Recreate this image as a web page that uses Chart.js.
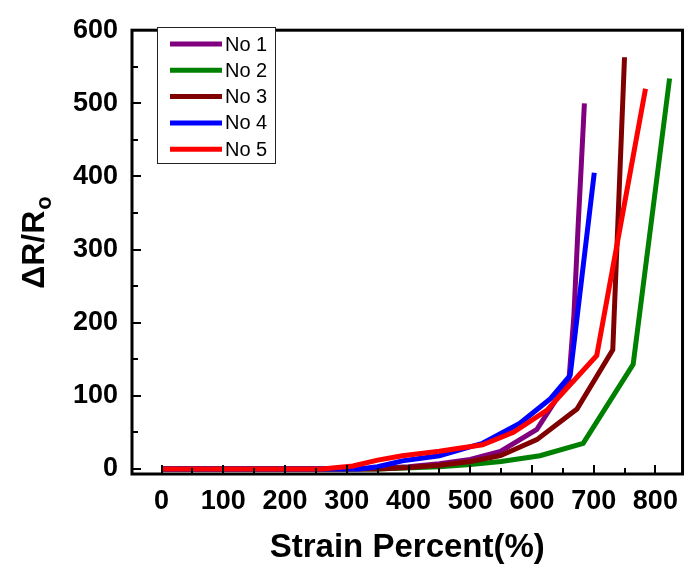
<!DOCTYPE html>
<html>
<head>
<meta charset="utf-8">
<script src="https://cdn.jsdelivr.net/npm/chart.js@4"></script>
<style>
  body { margin: 0; background: #fff; }
  canvas { display: block; }
</style>
</head>
<body>
<canvas id="chart" width="689" height="573"></canvas>
<script>
// strain (%) and resistance change for each sample
const strainNo1 = [0, 300, 350, 400, 450, 500, 549, 608, 660, 668, 675, 680, 685];
const respNo1 = [0, 0, 1, 3, 7, 13, 24, 54, 122, 210, 335, 416, 500];
const strainNo2 = [0, 350, 450, 500, 550, 613, 683, 764, 823];
const respNo2 = [0, 0, 3, 6, 10, 18, 35, 143, 534];
const strainNo3 = [0, 350, 400, 450, 500, 549, 608, 673, 731, 750];
const respNo3 = [0, 0, 2, 5, 10, 18, 40, 82, 163, 563];
const strainNo4 = [0, 320, 350, 390, 450, 520, 580, 630, 662, 701];
const respNo4 = [0, 0, 3, 11, 18, 35, 62, 96, 128, 405];
const strainNo5 = [0, 260, 310, 350, 390, 450, 520, 570, 624, 705, 784];
const respNo5 = [0, 0, 4, 12, 18, 24, 33, 50, 80, 155, 520];

const seriesNames = ['No 1', 'No 2', 'No 3', 'No 4', 'No 5'];
const seriesColors = ['#800080', '#008000', '#800000', '#0000ff', '#ff0000'];

const xTicks = [0, 100, 200, 300, 400, 500, 600, 700, 800];
const yTicks = [0, 100, 200, 300, 400, 500, 600];

const FONT = "'Liberation Sans', Arial, sans-serif";

function toPoints(xs, ys) {
    return xs.map((x, i) => ({ x: x, y: ys[i] }));
}

const allX = [strainNo1, strainNo2, strainNo3, strainNo4, strainNo5];
const allY = [respNo1, respNo2, respNo3, respNo4, respNo5];

const datasets = seriesNames.map((name, i) => ({
    label: name,
    data: toPoints(allX[i], allY[i]),
    borderColor: seriesColors[i],
    backgroundColor: seriesColors[i],
    borderWidth: 5,
    pointRadius: 0,
    tension: 0,
    fill: false,
    order: seriesNames.length - i
}));

function midpoints(arr) {
    const out = [];
    for (let i = 0; i < arr.length - 1; i++) out.push((arr[i] + arr[i + 1]) / 2);
    return out;
}

// box frame, inward ticks, legend and y title with subscript
const decorations = {
    id: 'decorations',
    afterDatasetsDraw(chart) {
        const ctx = chart.ctx;
        const a = chart.chartArea;
        const xs = chart.scales.x;
        const ys = chart.scales.y;
        ctx.save();
        ctx.strokeStyle = '#000';
        ctx.lineWidth = 2;
        ctx.beginPath();
        xTicks.forEach(v => {
            const px = Math.round(xs.getPixelForValue(v));
            ctx.moveTo(px, a.bottom); ctx.lineTo(px, a.bottom - 9);
        });
        midpoints(xTicks).forEach(v => {
            const px = Math.round(xs.getPixelForValue(v));
            ctx.moveTo(px, a.bottom); ctx.lineTo(px, a.bottom - 6);
        });
        yTicks.forEach(v => {
            const py = Math.round(ys.getPixelForValue(v));
            ctx.moveTo(a.left, py); ctx.lineTo(a.left + 9, py);
        });
        midpoints(yTicks).forEach(v => {
            const py = Math.round(ys.getPixelForValue(v));
            ctx.moveTo(a.left, py); ctx.lineTo(a.left + 6, py);
        });
        ctx.stroke();

        ctx.lineWidth = 3;
        ctx.strokeRect(a.left, a.top, a.right - a.left, a.bottom - a.top);
        ctx.restore();
    },
    afterDraw(chart) {
        const ctx = chart.ctx;
        ctx.save();

        // legend box
        const boxL = 157, boxT = 27, boxW = 118, boxH = 136;
        ctx.fillStyle = '#fff';
        ctx.fillRect(boxL, boxT, boxW, boxH);
        ctx.strokeStyle = '#222';
        ctx.lineWidth = 1;
        ctx.strokeRect(boxL + 0.5, boxT + 0.5, boxW, boxH);
        ctx.font = '20px ' + FONT;
        ctx.textBaseline = 'middle';
        ctx.textAlign = 'left';
        chart.data.datasets.forEach((ds, i) => {
            const cy = 44 + i * 26.3;
            ctx.strokeStyle = ds.borderColor;
            ctx.lineWidth = 5;
            ctx.beginPath();
            ctx.moveTo(170, cy);
            ctx.lineTo(222, cy);
            ctx.stroke();
            ctx.fillStyle = '#000';
            ctx.fillText(ds.label, 225, cy + 1);
        });

        // y axis title: ΔR/Ro
        const main = '\u0394R/R';
        const sub = 'o';
        ctx.fillStyle = '#000';
        ctx.translate(44, 243);
        ctx.rotate(-Math.PI / 2);
        ctx.textBaseline = 'alphabetic';
        ctx.font = 'bold 32px ' + FONT;
        const wMain = ctx.measureText(main).width;
        ctx.font = 'bold 22px ' + FONT;
        const wSub = ctx.measureText(sub).width;
        const start = -(wMain + wSub) / 2;
        ctx.font = 'bold 32px ' + FONT;
        ctx.fillText(main, start, 0);
        ctx.font = 'bold 22px ' + FONT;
        ctx.fillText(sub, start + wMain + 1, 7);
        ctx.restore();
    }
};

new Chart(document.getElementById('chart'), {
    type: 'line',
    data: { datasets: datasets },
    options: {
        responsive: false,
        animation: false,
        layout: { padding: { top: 24, right: 2, left: 0, bottom: 0 } },
        plugins: {
            legend: { display: false },
            tooltip: { enabled: false }
        },
        scales: {
            x: {
                type: 'linear',
                min: -48,
                max: 844,
                afterBuildTicks: scale => { scale.ticks = xTicks.map(v => ({ value: v })); },
                afterFit: scale => { scale.height = 99; },
                grid: { display: false, drawTicks: false },
                border: { display: false },
                ticks: {
                    color: '#000',
                    padding: 11,
                    maxRotation: 0,
                    autoSkip: false,
                    font: { family: FONT, size: 27, weight: 'bold' }
                },
                title: {
                    display: true,
                    text: 'Strain Percent(%)',
                    color: '#000',
                    font: { family: FONT, size: 33, weight: 'bold' },
                    padding: { top: 0, bottom: 5 }
                }
            },
            y: {
                type: 'linear',
                min: -7,
                max: 600,
                afterBuildTicks: scale => { scale.ticks = yTicks.map(v => ({ value: v })); },
                afterFit: scale => { scale.width = 132; },
                grid: { display: false, drawTicks: false },
                border: { display: false },
                ticks: {
                    color: '#000',
                    padding: 14,
                    autoSkip: false,
                    font: { family: FONT, size: 27, weight: 'bold' }
                }
            }
        }
    },
    plugins: [decorations]
});
</script>
</body>
</html>
